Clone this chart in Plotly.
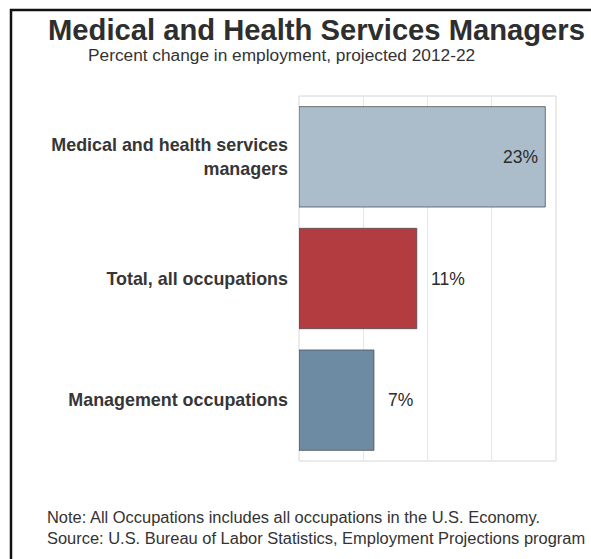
import plotly.graph_objects as go

# Projected percent change in employment, 2012-22
categories = [
    "Medical and health services<br>managers",
    "Total, all occupations",
    "Management occupations",
]
values = [23, 11, 7]
bar_colors = ["#abbdcb", "#b23c40", "#6e8ba4"]
value_labels = [f"{v}%" for v in values]

W, H = 591, 559
ML, MR, MT, MB = 299, 35, 96, 98
PW = W - ML - MR
PH = H - MT - MB


def px_x(px):
    return (px - ML) / PW


def px_y(py):
    return (H - MB - py) / PH


FONT = "Liberation Sans, Arial, Helvetica, sans-serif"
TEXT = "#333333"

fig = go.Figure(
    go.Bar(
        x=values,
        y=categories,
        orientation="h",
        marker=dict(color=bar_colors, line=dict(color="rgba(70,74,80,0.75)", width=1)),
        hoverinfo="skip",
    )
)

# value labels: inside the longest bar, just past the end of the others
annotations = []
for i, (cat, v, lab) in enumerate(zip(categories, values, value_labels)):
    inside = i == 0
    annotations.append(
        dict(
            x=v, y=cat, xref="x", yref="y", text=lab, showarrow=False,
            xanchor="right" if inside else "left",
            xshift=-5 if inside else 12,
            font=dict(family=FONT, size=17.5, color="#2b2b2b"),
        )
    )

annotations += [
    dict(
        text="<b>Medical and Health Services Managers</b>",
        x=px_x(316.5), y=px_y(30), xref="paper", yref="paper",
        xanchor="center", yanchor="middle", showarrow=False,
        font=dict(family=FONT, size=29.2, color="#2e2e2e"),
    ),
    dict(
        text="Percent change in employment, projected 2012-22",
        x=px_x(281), y=px_y(55), xref="paper", yref="paper",
        xanchor="center", yanchor="middle", showarrow=False,
        font=dict(family=FONT, size=17.3, color="#333333"),
    ),
    dict(
        text="Note: All Occupations includes all occupations in the U.S. Economy.",
        x=px_x(45), y=px_y(517), xref="paper", yref="paper",
        xanchor="left", yanchor="middle", showarrow=False,
        font=dict(family=FONT, size=16.45, color="#333333"),
    ),
    dict(
        text="Source: U.S. Bureau of Labor Statistics, Employment Projections program",
        x=px_x(45), y=px_y(538), xref="paper", yref="paper",
        xanchor="left", yanchor="middle", showarrow=False,
        font=dict(family=FONT, size=16.45, color="#333333"),
    ),
]

shapes = [
    # outer frame of the graphic (top and left edges visible)
    dict(
        type="rect", xref="paper", yref="paper",
        x0=px_x(11), x1=px_x(W + 20), y0=px_y(H + 20), y1=px_y(10),
        line=dict(color="#111111", width=2.5), fillcolor="rgba(0,0,0,0)",
        layer="above",
    ),
    # light border around the plotting area
    dict(
        type="rect", xref="paper", yref="paper", x0=0, x1=1, y0=0, y1=1,
        line=dict(color="#d6d6d6", width=1), fillcolor="rgba(0,0,0,0)",
        layer="below",
    ),
]

fig.update_layout(
    width=W, height=H,
    margin=dict(l=ML, r=MR, t=MT, b=MB, pad=0),
    paper_bgcolor="white", plot_bgcolor="white",
    showlegend=False,
    bargap=0.175,
    annotations=annotations,
    shapes=shapes,
    font=dict(family=FONT, color=TEXT),
)
fig.update_xaxes(
    range=[0, 24], dtick=6, showticklabels=False, ticks="",
    showgrid=True, gridcolor="#e6e6e6", gridwidth=1,
    zeroline=False, showline=False, fixedrange=True,
)
fig.update_yaxes(
    autorange="reversed", ticks="", showgrid=False, zeroline=False,
    showline=False, ticklabelstandoff=10,
    tickfont=dict(family=FONT, size=17.9, color="#363636", weight="bold"),
    fixedrange=True,
)

fig.write_html("out.html", config={"displayModeBar": False})
